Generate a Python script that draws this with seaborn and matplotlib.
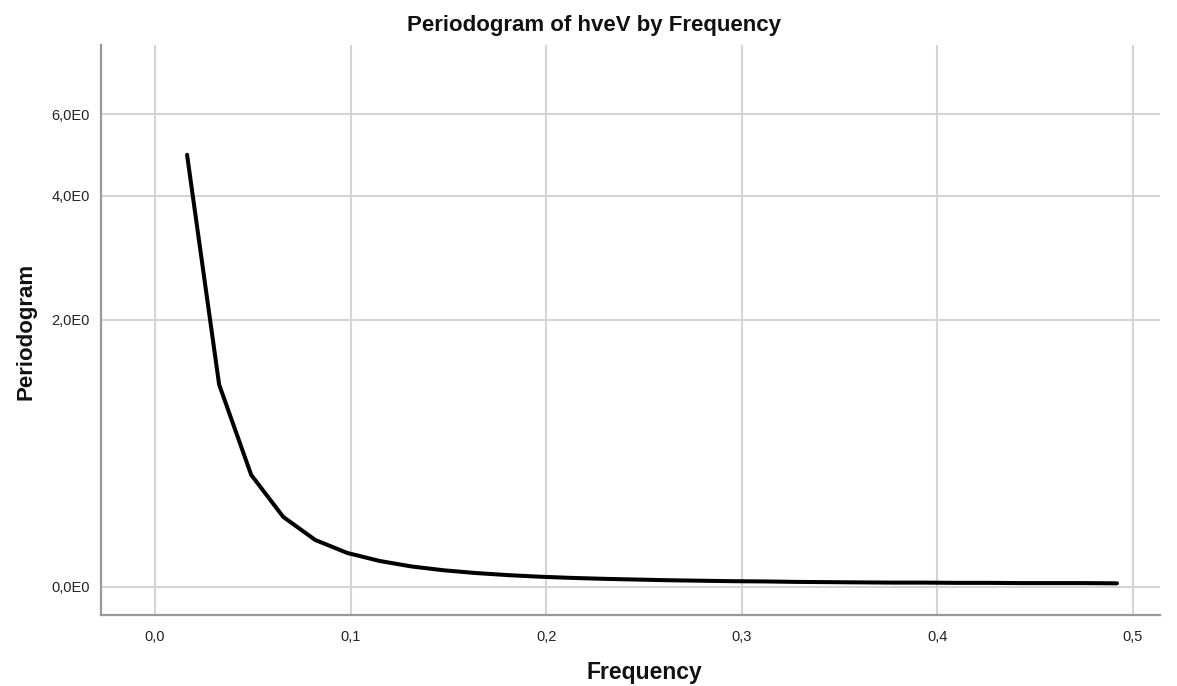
import matplotlib
matplotlib.use("Agg")
import matplotlib.pyplot as plt
import matplotlib.ticker
import seaborn as sns
import pandas as pd
import numpy as np

# periodogram ordinates (n = 61, harmonics k/61)
harmonic = list(range(1, 31))
periodogram = [4.92, 1.30, 0.586, 0.334, 0.213, 0.150, 0.113, 0.088, 0.071, 0.059,
               0.050, 0.043, 0.038, 0.034, 0.031, 0.028, 0.026, 0.024, 0.023, 0.021,
               0.020, 0.019, 0.018, 0.018, 0.017, 0.017, 0.016, 0.016, 0.016, 0.015]
x_ticks = [0.0, 0.1, 0.2, 0.3, 0.4, 0.5]
y_ticks = [0.0, 2.0, 4.0, 6.0]

df = pd.DataFrame({"Frequency": [k / 61 for k in harmonic], "Periodogram": periodogram})

sns.set_theme(style="white")
plt.rcParams['font.family'] = ['Liberation Sans', 'DejaVu Sans']

fig = plt.figure(figsize=(11.77, 6.86), dpi=100)
ax = fig.add_axes([101 / 1177, 1 - 615 / 686, (1160 - 101) / 1177, (615 - 45) / 686])

ax.set_yscale('function', functions=(np.log1p, np.expm1))
g = sns.lineplot(data=df, x="Frequency", y="Periodogram", color="black", linewidth=2.9, ax=ax)

ax.set_xlim(-0.0276, 0.5138)
ax.set_ylim(-0.109, 8.30)
ax.set_xticks(x_ticks)
ax.set_yticks(y_ticks)
ax.xaxis.set_major_formatter(matplotlib.ticker.FuncFormatter(lambda v, p: f"{v:.1f}".replace('.', ',')))
ax.yaxis.set_major_formatter(matplotlib.ticker.FuncFormatter(lambda v, p: f"{v:.1f}".replace('.', ',') + "E0"))
ax.tick_params(length=0, labelsize=10.5, colors="#222222")
ax.tick_params(axis='x', pad=11)
ax.tick_params(axis='y', pad=8)

ax.grid(True, color="#d4d4d4", linewidth=1.5)
for side in ["top", "right"]:
    ax.spines[side].set_visible(False)
for side in ["left", "bottom"]:
    ax.spines[side].set_color("#9a9a9a")
    ax.spines[side].set_linewidth(1.6)

ax.set_xlabel("")
ax.set_ylabel("")
fig.text(644 / 1177, 1 - 672 / 686, "Frequency", ha="center", va="center",
         fontsize=16.5, fontweight="bold", color="#111111")
fig.text(26 / 1177, 1 - 331 / 686, "Periodogram", ha="center", va="center", rotation=90,
         fontsize=16, fontweight="bold", color="#111111")
fig.text(594 / 1177, 1 - 25 / 686, "Periodogram of hveV by Frequency", ha="center", va="center",
         fontsize=16, fontweight="bold", color="#111111")

fig.savefig("out.png", dpi=100)
